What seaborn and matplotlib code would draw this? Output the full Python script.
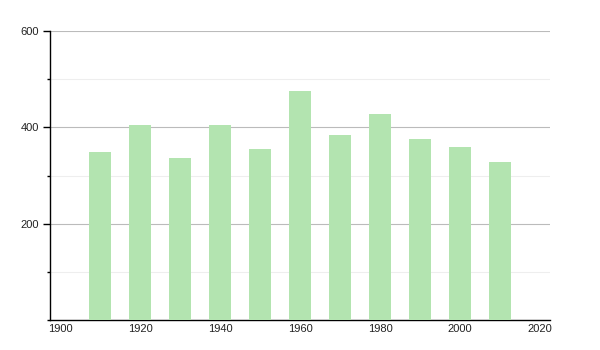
import matplotlib
matplotlib.use("Agg")
import matplotlib.pyplot as plt
import seaborn as sns
import pandas as pd
from matplotlib.ticker import MultipleLocator

years = [1910, 1920, 1930, 1940, 1950, 1960, 1970, 1980, 1990, 2000, 2010]
values = [349, 405, 336, 405, 355, 475, 385, 428, 375, 360, 328]
x_ticks = [1900, 1920, 1940, 1960, 1980, 2000, 2020]
y_ticks = [200, 400, 600]

sns.set_style("white")
plt.rcParams['font.family'] = ['Liberation Sans', 'DejaVu Sans']

df = pd.DataFrame({"year": years, "value": values})

fig = plt.figure(figsize=(6, 3.5), dpi=100)
ax = fig.add_axes([50/600, 30/350, 500/600, 289/350])

sns.barplot(data=df, x="year", y="value", native_scale=True, width=0.53,
            color="#b3e4b0", saturation=1, edgecolor="none", ax=ax, zorder=3)

ax.set_xlim(1897.5, 2022.5)
ax.set_ylim(0, 600)
ax.set_xticks(x_ticks)
ax.set_xticklabels([str(t) for t in x_ticks])
ax.set_yticks(y_ticks)
ax.set_yticklabels([str(t) for t in y_ticks])
ax.yaxis.set_minor_locator(MultipleLocator(100))
ax.yaxis.grid(True, which="major", color="#bbbbbb", linewidth=0.8, zorder=0)
ax.yaxis.grid(True, which="minor", color="#eeeeee", linewidth=0.8, zorder=0)
ax.set_axisbelow(True)
ax.set_xlabel("")
ax.set_ylabel("")

for s in ["top", "right"]:
    ax.spines[s].set_visible(False)
for s in ["left", "bottom"]:
    ax.spines[s].set_color("black")
    ax.spines[s].set_linewidth(1.0)

ax.tick_params(axis="y", which="major", length=5, width=1, color="black",
               labelsize=8, pad=3, left=True, labelcolor="#222222")
ax.tick_params(axis="y", which="minor", length=2.5, width=1, color="black", left=True)
ax.tick_params(axis="x", which="both", length=0, labelsize=8, pad=3, labelcolor="#222222")

fig.savefig("out.png", dpi=100)
